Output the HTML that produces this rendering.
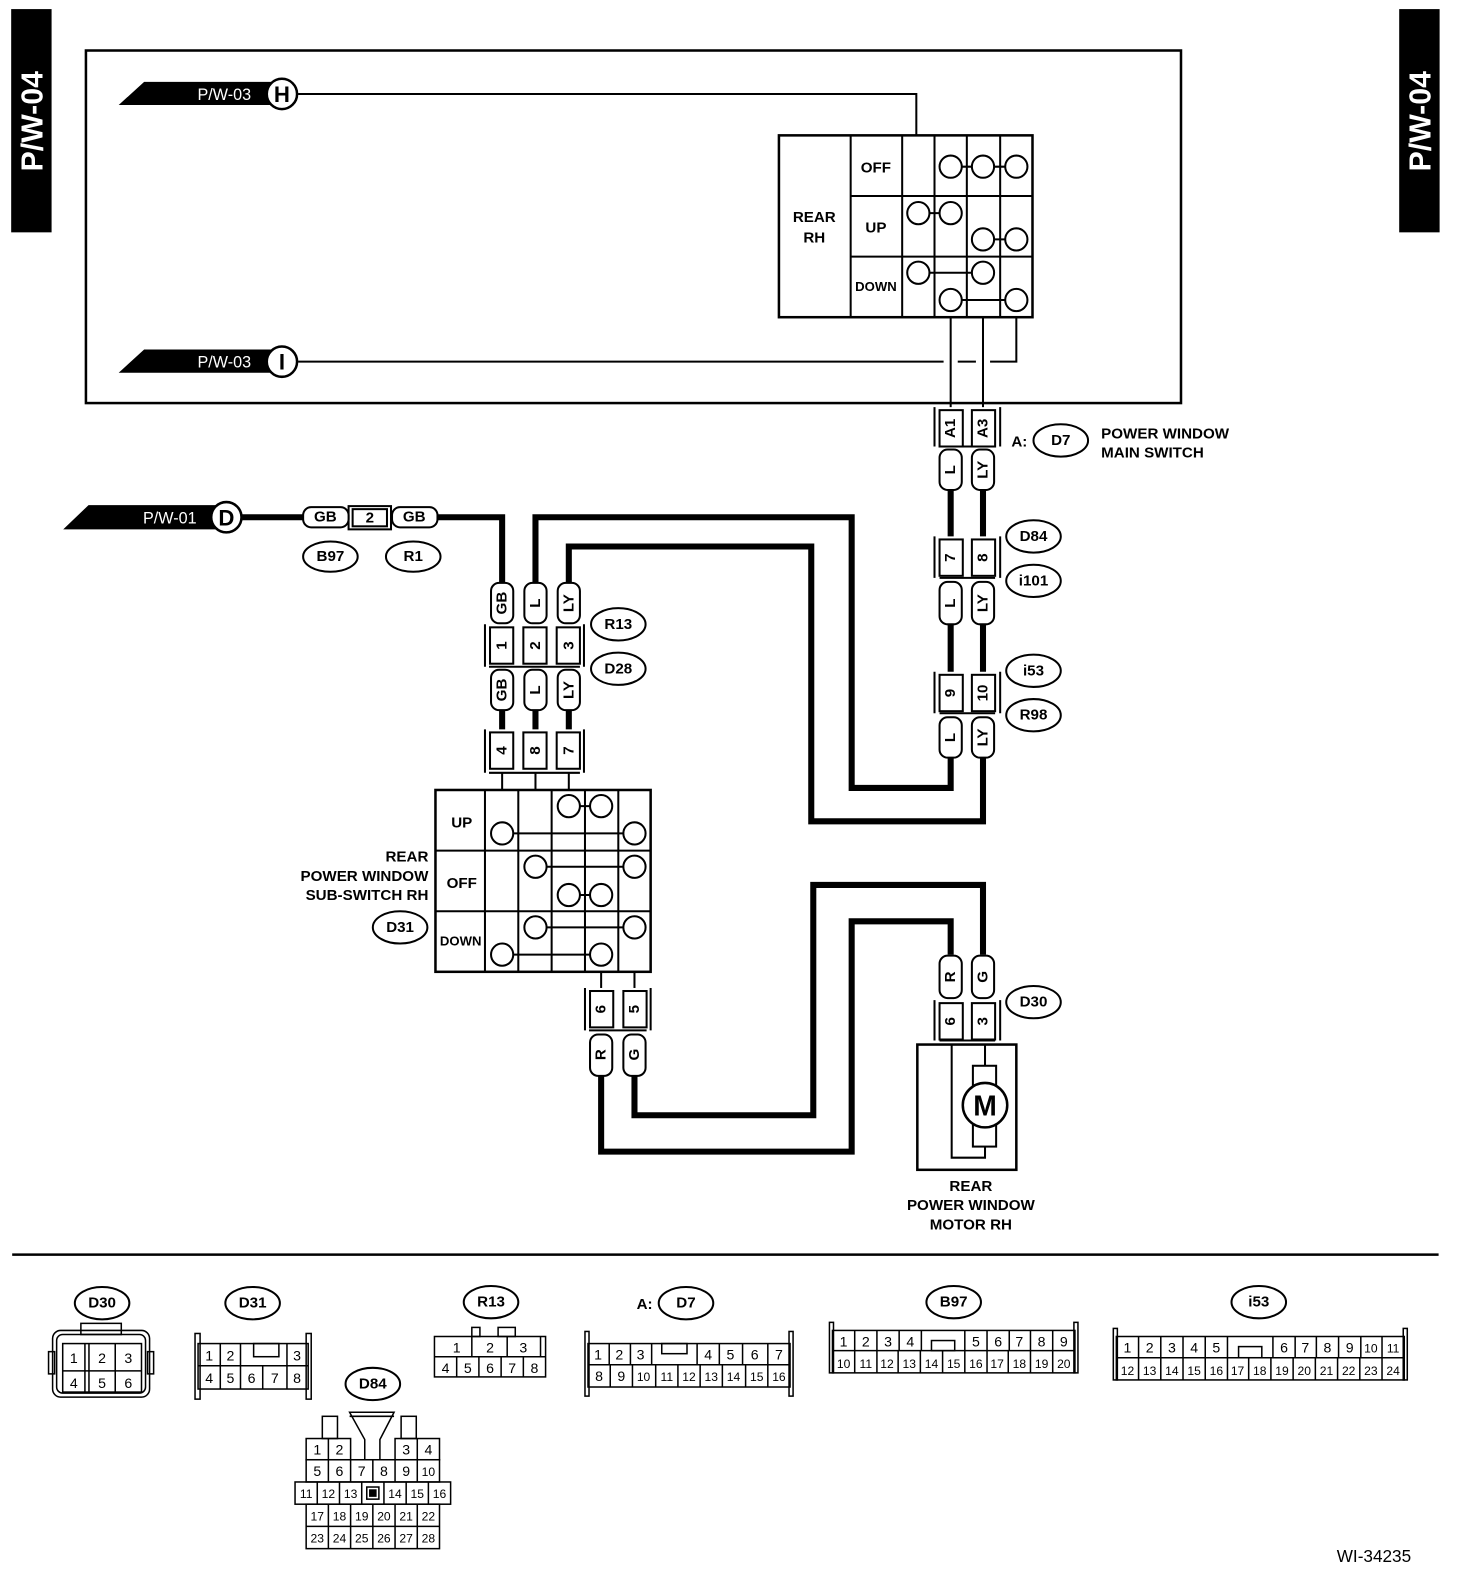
<!DOCTYPE html>
<html><head><meta charset="utf-8"><style>
html,body{margin:0;padding:0;background:#fff;}
svg{display:block;}
text{font-family:"Liberation Sans",sans-serif;font-weight:bold;font-size:15px;fill:#000;}
.n{font-weight:normal;font-size:14px;}
.w{fill:#fff;}
</style></head><body>
<svg width="1472" height="1584" viewBox="0 0 1457 1568" xmlns="http://www.w3.org/2000/svg">
<g fill="none" stroke="#000" stroke-width="2">
<rect x="12" y="10" width="38" height="219" fill="#000"/>
<rect x="1386" y="10" width="38" height="219" fill="#000"/>
<rect x="85" y="50" width="1084" height="349" stroke-width="2.5"/>
<polyline points="295,93 907,93 907,134"/>
<polyline points="295,358 934,358"/>
<polyline points="948,358 966,358"/>
<polyline points="980,358 1006,358 1006,314"/>
<line x1="941" y1="314" x2="941" y2="403"/>
<line x1="973" y1="314" x2="973" y2="403"/>
<rect x="771" y="134" width="251" height="180" stroke-width="2.5"/>
<line x1="842" y1="134" x2="842" y2="314"/>
<line x1="893" y1="134" x2="893" y2="314"/>
<line x1="925" y1="134" x2="925" y2="314"/>
<line x1="957" y1="134" x2="957" y2="314"/>
<line x1="990" y1="134" x2="990" y2="314"/>
<line x1="842" y1="194" x2="1022" y2="194"/>
<line x1="842" y1="254" x2="1022" y2="254"/>
<line x1="941" y1="165" x2="1006" y2="165"/>
<line x1="909" y1="211" x2="941" y2="211"/>
<line x1="973" y1="237" x2="1006" y2="237"/>
<line x1="909" y1="270" x2="973" y2="270"/>
<line x1="941" y1="297" x2="1006" y2="297"/>
<g fill="#fff">
<circle cx="941" cy="165" r="11"/><circle cx="973" cy="165" r="11"/><circle cx="1006" cy="165" r="11"/>
<circle cx="909" cy="211" r="11"/><circle cx="941" cy="211" r="11"/>
<circle cx="973" cy="237" r="11"/><circle cx="1006" cy="237" r="11"/>
<circle cx="909" cy="270" r="11"/><circle cx="973" cy="270" r="11"/>
<circle cx="941" cy="297" r="11"/><circle cx="1006" cy="297" r="11"/>
</g>
<g stroke-width="6">
<line x1="941" y1="485" x2="941" y2="531"/><line x1="973" y1="485" x2="973" y2="531"/>
<line x1="941" y1="618" x2="941" y2="665"/><line x1="973" y1="618" x2="973" y2="665"/>
<polyline points="941,750 941,780 843,780 843,512 530,512 530,577"/>
<polyline points="973,750 973,813 803,813 803,541 563,541 563,577"/>
<polyline points="240,512 300,512"/>
<polyline points="433,512 497,512 497,577"/>
<line x1="497" y1="702" x2="497" y2="722"/><line x1="530" y1="702" x2="530" y2="722"/><line x1="563" y1="702" x2="563" y2="722"/>
<polyline points="595,1065 595,1140 843,1140 843,912 941,912 941,945"/>
<polyline points="628,1065 628,1104 805,1104 805,876 973,876 973,945"/>
</g>
<g>
<path d="M925,442 V403 M990,403 V442 M930,442 H985"/><rect x="930" y="406" width="23" height="36"/><rect x="962" y="406" width="23" height="36"/>
<path d="M925,572 V531 M990,531 V572 M930,572 H985"/><rect x="930" y="534" width="23" height="36"/><rect x="962" y="534" width="23" height="36"/>
<path d="M925,706 V665 M990,665 V706 M930,706 H985"/><rect x="930" y="668" width="23" height="36"/><rect x="962" y="668" width="23" height="36"/>
<path d="M480,660 V618 M578,618 V660 M484,660 H574"/><rect x="485" y="621" width="23" height="36"/><rect x="518" y="621" width="23" height="36"/><rect x="551" y="621" width="23" height="36"/>
<path d="M480,765 V722 M578,722 V765 M484,765 H574"/><rect x="485" y="725" width="23" height="36"/><rect x="518" y="725" width="23" height="36"/><rect x="551" y="725" width="23" height="36"/>
<path d="M579,1020 V978 M644,978 V1020 M583,1020 H640"/><rect x="584" y="981" width="23" height="36"/><rect x="617" y="981" width="23" height="36"/>
<path d="M925,1030 V990 M990,990 V1030 M930,1030 H985"/><rect x="930" y="993" width="23" height="36"/><rect x="962" y="993" width="23" height="36"/>
<rect x="345" y="501" width="42" height="23"/><rect x="349" y="504" width="34" height="17"/>
</g>
<g fill="#fff">
<rect x="930" y="445" width="22" height="40" rx="8"/><rect x="962" y="445" width="22" height="40" rx="8"/>
<rect x="930" y="576" width="22" height="42" rx="8"/><rect x="962" y="576" width="22" height="42" rx="8"/>
<rect x="930" y="710" width="22" height="40" rx="8"/><rect x="962" y="710" width="22" height="40" rx="8"/>
<rect x="486" y="577" width="22" height="40" rx="8"/><rect x="519" y="577" width="22" height="40" rx="8"/><rect x="552" y="577" width="22" height="40" rx="8"/>
<rect x="486" y="663" width="22" height="40" rx="8"/><rect x="519" y="663" width="22" height="40" rx="8"/><rect x="552" y="663" width="22" height="40" rx="8"/>
<rect x="584" y="1024" width="22" height="41" rx="8"/><rect x="617" y="1024" width="22" height="41" rx="8"/>
<rect x="930" y="946" width="22" height="42" rx="8"/><rect x="962" y="946" width="22" height="42" rx="8"/>
<rect x="300" y="502" width="45" height="20" rx="8"/><rect x="388" y="502" width="45" height="20" rx="8"/>
</g>
<line x1="497" y1="765" x2="497" y2="782"/><line x1="530" y1="765" x2="530" y2="782"/><line x1="563" y1="765" x2="563" y2="782"/>
<line x1="595" y1="962" x2="595" y2="978"/><line x1="628" y1="962" x2="628" y2="978"/>
<rect x="431" y="782" width="213" height="180" stroke-width="2.5"/>
<line x1="480" y1="782" x2="480" y2="962"/><line x1="513" y1="782" x2="513" y2="962"/><line x1="546" y1="782" x2="546" y2="962"/><line x1="579" y1="782" x2="579" y2="962"/><line x1="612" y1="782" x2="612" y2="962"/>
<line x1="431" y1="842" x2="644" y2="842"/><line x1="431" y1="902" x2="644" y2="902"/>
<line x1="563" y1="798" x2="595" y2="798"/><line x1="497" y1="825" x2="628" y2="825"/>
<line x1="530" y1="858" x2="628" y2="858"/><line x1="563" y1="886" x2="595" y2="886"/>
<line x1="530" y1="918" x2="628" y2="918"/><line x1="497" y1="945" x2="595" y2="945"/>
<g fill="#fff">
<circle cx="563" cy="798" r="11"/><circle cx="595" cy="798" r="11"/><circle cx="497" cy="825" r="11"/><circle cx="628" cy="825" r="11"/>
<circle cx="530" cy="858" r="11"/><circle cx="628" cy="858" r="11"/><circle cx="563" cy="886" r="11"/><circle cx="595" cy="886" r="11"/>
<circle cx="530" cy="918" r="11"/><circle cx="628" cy="918" r="11"/><circle cx="497" cy="945" r="11"/><circle cx="595" cy="945" r="11"/>
</g>
<rect x="908" y="1034" width="98" height="124" stroke-width="2.5"/>
<polyline points="942,1034 942,1146 975,1146 975,1135"/>
<line x1="975" y1="1034" x2="975" y2="1055"/>
<rect x="963" y="1055" width="23" height="80"/>
<circle cx="975" cy="1094" r="22" fill="#fff" stroke-width="2.5"/>
<polygon points="120,103 143,82 270,82 270,103" fill="#000"/>
<polygon points="120,368 143,347 270,347 270,368" fill="#000"/>
<polygon points="65,523 88,501 214,501 214,523" fill="#000"/>
<circle cx="279" cy="93" r="15" fill="#fff" stroke-width="2.5"/>
<circle cx="279" cy="358" r="15" fill="#fff" stroke-width="2.5"/>
<circle cx="224" cy="512" r="15" fill="#fff" stroke-width="2.5"/>
<g stroke-width="2">
<ellipse cx="1050" cy="436" rx="27" ry="16"/>
<ellipse cx="1023" cy="531" rx="27" ry="16"/><ellipse cx="1023" cy="575" rx="27" ry="16"/>
<ellipse cx="1023" cy="664" rx="27" ry="16"/><ellipse cx="1023" cy="708" rx="27" ry="16"/>
<ellipse cx="327" cy="551" rx="27" ry="15"/><ellipse cx="409" cy="551" rx="27" ry="15"/>
<ellipse cx="612" cy="618" rx="27" ry="16"/><ellipse cx="612" cy="662" rx="27" ry="16"/>
<ellipse cx="396" cy="918" rx="27" ry="16"/><ellipse cx="1023" cy="992" rx="27" ry="16"/>
<ellipse cx="101" cy="1290" rx="27" ry="16"/><ellipse cx="250" cy="1290" rx="27" ry="16"/>
<ellipse cx="486" cy="1289" rx="27" ry="16"/><ellipse cx="679" cy="1290" rx="27" ry="16"/>
<ellipse cx="944" cy="1289" rx="27" ry="16"/><ellipse cx="1246" cy="1289" rx="27" ry="16"/>
<ellipse cx="369" cy="1370" rx="27" ry="16"/>
</g>
<line x1="12" y1="1242" x2="1424" y2="1242" stroke-width="2.5"/>
<g stroke-width="1.5">
<rect x="52" y="1317" width="96" height="66" rx="8"/><rect x="56" y="1321" width="88" height="58" rx="6"/>
<rect x="48" y="1338" width="6" height="22"/><rect x="146" y="1338" width="6" height="22"/>
<rect x="80" y="1310" width="40" height="11"/>
<rect x="62" y="1330" width="78" height="48"/><line x1="62" y1="1357" x2="140" y2="1357"/>
<line x1="84" y1="1330" x2="84" y2="1378"/><line x1="88" y1="1330" x2="88" y2="1378"/><line x1="114" y1="1330" x2="114" y2="1378"/>
<rect x="196" y="1330" width="109" height="45"/><line x1="196" y1="1352" x2="305" y2="1352"/>
<line x1="218" y1="1330" x2="218" y2="1375"/><line x1="238" y1="1330" x2="238" y2="1375"/><line x1="260" y1="1352" x2="260" y2="1375"/><line x1="284" y1="1330" x2="284" y2="1375"/>
<rect x="251" y="1330" width="25" height="13"/>
<rect x="193" y="1320" width="5" height="65"/><rect x="303" y="1320" width="5" height="65"/>
<rect x="430" y="1323" width="110" height="40"/><line x1="430" y1="1343" x2="540" y2="1343"/>
<line x1="467" y1="1323" x2="467" y2="1343"/><line x1="502" y1="1323" x2="502" y2="1343"/><line x1="535" y1="1323" x2="535" y2="1343"/>
<line x1="452" y1="1343" x2="452" y2="1363"/><line x1="474" y1="1343" x2="474" y2="1363"/><line x1="496" y1="1343" x2="496" y2="1363"/><line x1="518" y1="1343" x2="518" y2="1363"/>
<rect x="467" y="1314" width="8" height="9"/><rect x="493" y="1314" width="17" height="9"/>
<rect x="582" y="1330" width="200" height="43"/><line x1="582" y1="1351" x2="782" y2="1351"/>
<rect x="579" y="1318" width="4" height="64"/><rect x="781" y="1318" width="4" height="64"/>
<line x1="603" y1="1330" x2="603" y2="1351"/><line x1="624" y1="1330" x2="624" y2="1351"/><line x1="645" y1="1330" x2="645" y2="1351"/><line x1="690" y1="1330" x2="690" y2="1351"/><line x1="712" y1="1330" x2="712" y2="1351"/><line x1="735" y1="1330" x2="735" y2="1351"/><line x1="760" y1="1330" x2="760" y2="1351"/>
<rect x="655" y="1330" width="25" height="10"/>
<line x1="604" y1="1351" x2="604" y2="1373"/><line x1="626" y1="1351" x2="626" y2="1373"/><line x1="649" y1="1351" x2="649" y2="1373"/><line x1="671" y1="1351" x2="671" y2="1373"/><line x1="693" y1="1351" x2="693" y2="1373"/><line x1="715" y1="1351" x2="715" y2="1373"/><line x1="738" y1="1351" x2="738" y2="1373"/><line x1="760" y1="1351" x2="760" y2="1373"/>
<rect x="824" y="1317" width="240" height="42"/><line x1="824" y1="1337" x2="1064" y2="1337"/>
<rect x="821" y="1309" width="4" height="50"/><rect x="1063" y="1309" width="4" height="50"/>
<line x1="846" y1="1317" x2="846" y2="1337"/><line x1="868" y1="1317" x2="868" y2="1337"/><line x1="890" y1="1317" x2="890" y2="1337"/><line x1="912" y1="1317" x2="912" y2="1337"/><line x1="955" y1="1317" x2="955" y2="1337"/><line x1="977" y1="1317" x2="977" y2="1337"/><line x1="999" y1="1317" x2="999" y2="1337"/><line x1="1020" y1="1317" x2="1020" y2="1337"/><line x1="1042" y1="1317" x2="1042" y2="1337"/>
<rect x="922" y="1327" width="23" height="10"/>
<line x1="846" y1="1337" x2="846" y2="1359"/><line x1="868" y1="1337" x2="868" y2="1359"/><line x1="889" y1="1337" x2="889" y2="1359"/><line x1="911" y1="1337" x2="911" y2="1359"/><line x1="933" y1="1337" x2="933" y2="1359"/><line x1="955" y1="1337" x2="955" y2="1359"/><line x1="977" y1="1337" x2="977" y2="1359"/><line x1="998" y1="1337" x2="998" y2="1359"/><line x1="1020" y1="1337" x2="1020" y2="1359"/><line x1="1042" y1="1337" x2="1042" y2="1359"/>
<rect x="1105" y="1323" width="285" height="43"/><line x1="1105" y1="1344" x2="1390" y2="1344"/>
<rect x="1102" y="1315" width="4" height="51"/><rect x="1389" y="1315" width="4" height="51"/>
<line x1="1127" y1="1323" x2="1127" y2="1344"/><line x1="1149" y1="1323" x2="1149" y2="1344"/><line x1="1171" y1="1323" x2="1171" y2="1344"/><line x1="1193" y1="1323" x2="1193" y2="1344"/><line x1="1215" y1="1323" x2="1215" y2="1344"/><line x1="1260" y1="1323" x2="1260" y2="1344"/><line x1="1282" y1="1323" x2="1282" y2="1344"/><line x1="1303" y1="1323" x2="1303" y2="1344"/><line x1="1325" y1="1323" x2="1325" y2="1344"/><line x1="1347" y1="1323" x2="1347" y2="1344"/><line x1="1368" y1="1323" x2="1368" y2="1344"/>
<rect x="1226" y="1333" width="23" height="11"/>
<line x1="1127" y1="1344" x2="1127" y2="1366"/><line x1="1149" y1="1344" x2="1149" y2="1366"/><line x1="1171" y1="1344" x2="1171" y2="1366"/><line x1="1193" y1="1344" x2="1193" y2="1366"/><line x1="1215" y1="1344" x2="1215" y2="1366"/><line x1="1236" y1="1344" x2="1236" y2="1366"/><line x1="1258" y1="1344" x2="1258" y2="1366"/><line x1="1280" y1="1344" x2="1280" y2="1366"/><line x1="1302" y1="1344" x2="1302" y2="1366"/><line x1="1324" y1="1344" x2="1324" y2="1366"/><line x1="1346" y1="1344" x2="1346" y2="1366"/><line x1="1368" y1="1344" x2="1368" y2="1366"/>
<rect x="303" y="1424" width="44" height="21"/><line x1="325" y1="1424" x2="325" y2="1445"/>
<rect x="391" y="1424" width="44" height="21"/><line x1="413" y1="1424" x2="413" y2="1445"/>
<rect x="319" y="1402" width="15" height="22"/><rect x="397" y="1402" width="15" height="22"/>
<polygon points="346,1398 390,1398 376,1425 376,1445 361,1445 361,1425"/>
<line x1="346" y1="1402" x2="390" y2="1402"/>
<rect x="303" y="1445" width="132" height="22"/>
<line x1="325" y1="1445" x2="325" y2="1467"/><line x1="347" y1="1445" x2="347" y2="1467"/><line x1="369" y1="1445" x2="369" y2="1467"/><line x1="391" y1="1445" x2="391" y2="1467"/><line x1="413" y1="1445" x2="413" y2="1467"/>
<rect x="292" y="1467" width="154" height="22"/>
<line x1="314" y1="1467" x2="314" y2="1489"/><line x1="336" y1="1467" x2="336" y2="1489"/><line x1="358" y1="1467" x2="358" y2="1489"/><line x1="380" y1="1467" x2="380" y2="1489"/><line x1="402" y1="1467" x2="402" y2="1489"/><line x1="424" y1="1467" x2="424" y2="1489"/>
<rect x="363" y="1472" width="12" height="12"/><rect x="366" y="1475" width="6" height="6" fill="#000"/>
<rect x="303" y="1489" width="132" height="44"/><line x1="303" y1="1511" x2="435" y2="1511"/>
<line x1="325" y1="1489" x2="325" y2="1533"/><line x1="347" y1="1489" x2="347" y2="1533"/><line x1="369" y1="1489" x2="369" y2="1533"/><line x1="391" y1="1489" x2="391" y2="1533"/><line x1="413" y1="1489" x2="413" y2="1533"/>
</g>
</g>

<text class="w" transform="translate(42,120) rotate(-90)" text-anchor="middle" style="font-size:30px">P/W-04</text>
<text class="w" transform="translate(1416,120) rotate(-90)" text-anchor="middle" style="font-size:30px">P/W-04</text>
<text class="w" x="222" y="99" text-anchor="middle" style="font-weight:normal;font-size:16px">P/W-03</text>
<text class="w" x="222" y="364" text-anchor="middle" style="font-weight:normal;font-size:16px">P/W-03</text>
<text class="w" x="168" y="518" text-anchor="middle" style="font-weight:normal;font-size:16px">P/W-01</text>
<text x="279" y="101" text-anchor="middle" style="font-size:22px">H</text>
<text x="279" y="366" text-anchor="middle" style="font-size:22px">I</text>
<text x="224" y="520" text-anchor="middle" style="font-size:22px">D</text>

<text x="867" y="171" text-anchor="middle">OFF</text>
<text x="867" y="230" text-anchor="middle">UP</text>
<text x="867" y="288" text-anchor="middle" style="font-size:13px">DOWN</text>
<text x="806" y="220" text-anchor="middle">REAR</text>
<text x="806" y="240" text-anchor="middle">RH</text>

<text x="457" y="819" text-anchor="middle">UP</text>
<text x="457" y="879" text-anchor="middle">OFF</text>
<text x="456" y="936" text-anchor="middle" style="font-size:13px">DOWN</text>
<text x="424" y="853" text-anchor="end">REAR</text>
<text x="424" y="872" text-anchor="end">POWER WINDOW</text>
<text x="424" y="891" text-anchor="end">SUB-SWITCH RH</text>

<text x="961" y="1179" text-anchor="middle">REAR</text>
<text x="961" y="1198" text-anchor="middle">POWER WINDOW</text>
<text x="961" y="1217" text-anchor="middle">MOTOR RH</text>
<text x="975" y="1104" text-anchor="middle" style="font-size:28px">M</text>

<text x="1009" y="442" text-anchor="middle">A:</text>
<text x="1090" y="434">POWER WINDOW</text>
<text x="1090" y="453">MAIN SWITCH</text>

<g text-anchor="middle" dominant-baseline="central">
<text x="1050" y="436">D7</text>
<text x="1023" y="531">D84</text><text x="1023" y="575">i101</text>
<text x="1023" y="664">i53</text><text x="1023" y="708">R98</text>
<text x="327" y="551">B97</text><text x="409" y="551">R1</text>
<text x="612" y="618">R13</text><text x="612" y="662">D28</text>
<text x="396" y="918">D31</text><text x="1023" y="992">D30</text>
<text x="101" y="1290">D30</text><text x="250" y="1290">D31</text><text x="486" y="1289">R13</text>
<text x="679" y="1290">D7</text><text x="944" y="1289">B97</text><text x="1246" y="1289">i53</text><text x="369" y="1370">D84</text>
<text x="322" y="512">GB</text><text x="366" y="513">2</text><text x="410" y="512">GB</text>
</g>
<text x="638" y="1296" text-anchor="middle">A:</text>

<g text-anchor="middle" dominant-baseline="central" style="font-size:15px">
<text transform="translate(941,424) rotate(-90)">A1</text><text transform="translate(973,424) rotate(-90)">A3</text>
<text transform="translate(941,465) rotate(-90)">L</text><text transform="translate(973,465) rotate(-90)">LY</text>
<text transform="translate(941,552) rotate(-90)">7</text><text transform="translate(973,552) rotate(-90)">8</text>
<text transform="translate(941,597) rotate(-90)">L</text><text transform="translate(973,597) rotate(-90)">LY</text>
<text transform="translate(941,686) rotate(-90)">9</text><text transform="translate(973,686) rotate(-90)">10</text>
<text transform="translate(941,730) rotate(-90)">L</text><text transform="translate(973,730) rotate(-90)">LY</text>
<text transform="translate(497,597) rotate(-90)">GB</text><text transform="translate(530,597) rotate(-90)">L</text><text transform="translate(563,597) rotate(-90)">LY</text>
<text transform="translate(497,639) rotate(-90)">1</text><text transform="translate(530,639) rotate(-90)">2</text><text transform="translate(563,639) rotate(-90)">3</text>
<text transform="translate(497,683) rotate(-90)">GB</text><text transform="translate(530,683) rotate(-90)">L</text><text transform="translate(563,683) rotate(-90)">LY</text>
<text transform="translate(497,743) rotate(-90)">4</text><text transform="translate(530,743) rotate(-90)">8</text><text transform="translate(563,743) rotate(-90)">7</text>
<text transform="translate(595,999) rotate(-90)">6</text><text transform="translate(628,999) rotate(-90)">5</text>
<text transform="translate(595,1044) rotate(-90)">R</text><text transform="translate(628,1044) rotate(-90)">G</text>
<text transform="translate(941,967) rotate(-90)">R</text><text transform="translate(973,967) rotate(-90)">G</text>
<text transform="translate(941,1011) rotate(-90)">6</text><text transform="translate(973,1011) rotate(-90)">3</text>
</g>

<g class="n" text-anchor="middle" style="font-weight:normal;font-size:14px">
<text class="n" x="73" y="1349">1</text><text class="n" x="101" y="1349">2</text><text class="n" x="127" y="1349">3</text>
<text class="n" x="73" y="1374">4</text><text class="n" x="101" y="1374">5</text><text class="n" x="127" y="1374">6</text>
<text class="n" x="207" y="1347">1</text><text class="n" x="228" y="1347">2</text><text class="n" x="294" y="1347">3</text>
<text class="n" x="207" y="1369">4</text><text class="n" x="228" y="1369">5</text><text class="n" x="249" y="1369">6</text><text class="n" x="272" y="1369">7</text><text class="n" x="294" y="1369">8</text>
<text class="n" x="452" y="1339">1</text><text class="n" x="485" y="1339">2</text><text class="n" x="518" y="1339">3</text>
<text class="n" x="441" y="1359">4</text><text class="n" x="463" y="1359">5</text><text class="n" x="485" y="1359">6</text><text class="n" x="507" y="1359">7</text><text class="n" x="529" y="1359">8</text>
<text class="n" x="592" y="1346">1</text><text class="n" x="613" y="1346">2</text><text class="n" x="634" y="1346">3</text><text class="n" x="701" y="1346">4</text><text class="n" x="723" y="1346">5</text><text class="n" x="747" y="1346">6</text><text class="n" x="771" y="1346">7</text>
<text class="n" x="593" y="1367">8</text><text class="n" x="615" y="1367">9</text><text class="n" x="637" y="1367" style="font-size:12px">10</text><text class="n" x="660" y="1367" style="font-size:12px">11</text><text class="n" x="682" y="1367" style="font-size:12px">12</text><text class="n" x="704" y="1367" style="font-size:12px">13</text><text class="n" x="726" y="1367" style="font-size:12px">14</text><text class="n" x="749" y="1367" style="font-size:12px">15</text><text class="n" x="771" y="1367" style="font-size:12px">16</text>
<text class="n" x="835" y="1333">1</text><text class="n" x="857" y="1333">2</text><text class="n" x="879" y="1333">3</text><text class="n" x="901" y="1333">4</text><text class="n" x="966" y="1333">5</text><text class="n" x="988" y="1333">6</text><text class="n" x="1009" y="1333">7</text><text class="n" x="1031" y="1333">8</text><text class="n" x="1053" y="1333">9</text>
<text class="n" x="835" y="1354" style="font-size:12px">10</text><text class="n" x="857" y="1354" style="font-size:12px">11</text><text class="n" x="878" y="1354" style="font-size:12px">12</text><text class="n" x="900" y="1354" style="font-size:12px">13</text><text class="n" x="922" y="1354" style="font-size:12px">14</text><text class="n" x="944" y="1354" style="font-size:12px">15</text><text class="n" x="966" y="1354" style="font-size:12px">16</text><text class="n" x="987" y="1354" style="font-size:12px">17</text><text class="n" x="1009" y="1354" style="font-size:12px">18</text><text class="n" x="1031" y="1354" style="font-size:12px">19</text><text class="n" x="1053" y="1354" style="font-size:12px">20</text>
<text class="n" x="1116" y="1339">1</text><text class="n" x="1138" y="1339">2</text><text class="n" x="1160" y="1339">3</text><text class="n" x="1182" y="1339">4</text><text class="n" x="1204" y="1339">5</text><text class="n" x="1271" y="1339">6</text><text class="n" x="1292" y="1339">7</text><text class="n" x="1314" y="1339">8</text><text class="n" x="1336" y="1339">9</text><text class="n" x="1357" y="1339" style="font-size:12px">10</text><text class="n" x="1379" y="1339" style="font-size:12px">11</text>
<text class="n" x="1116" y="1361" style="font-size:12px">12</text><text class="n" x="1138" y="1361" style="font-size:12px">13</text><text class="n" x="1160" y="1361" style="font-size:12px">14</text><text class="n" x="1182" y="1361" style="font-size:12px">15</text><text class="n" x="1204" y="1361" style="font-size:12px">16</text><text class="n" x="1225" y="1361" style="font-size:12px">17</text><text class="n" x="1247" y="1361" style="font-size:12px">18</text><text class="n" x="1269" y="1361" style="font-size:12px">19</text><text class="n" x="1291" y="1361" style="font-size:12px">20</text><text class="n" x="1313" y="1361" style="font-size:12px">21</text><text class="n" x="1335" y="1361" style="font-size:12px">22</text><text class="n" x="1357" y="1361" style="font-size:12px">23</text><text class="n" x="1379" y="1361" style="font-size:12px">24</text>
<text class="n" x="314" y="1440">1</text><text class="n" x="336" y="1440">2</text><text class="n" x="402" y="1440">3</text><text class="n" x="424" y="1440">4</text>
<text class="n" x="314" y="1461">5</text><text class="n" x="336" y="1461">6</text><text class="n" x="358" y="1461">7</text><text class="n" x="380" y="1461">8</text><text class="n" x="402" y="1461">9</text><text class="n" x="424" y="1461" style="font-size:12px">10</text>
<text class="n" x="303" y="1483" style="font-size:12px">11</text><text class="n" x="325" y="1483" style="font-size:12px">12</text><text class="n" x="347" y="1483" style="font-size:12px">13</text><text class="n" x="391" y="1483" style="font-size:12px">14</text><text class="n" x="413" y="1483" style="font-size:12px">15</text><text class="n" x="435" y="1483" style="font-size:12px">16</text>
<text class="n" x="314" y="1505" style="font-size:12px">17</text><text class="n" x="336" y="1505" style="font-size:12px">18</text><text class="n" x="358" y="1505" style="font-size:12px">19</text><text class="n" x="380" y="1505" style="font-size:12px">20</text><text class="n" x="402" y="1505" style="font-size:12px">21</text><text class="n" x="424" y="1505" style="font-size:12px">22</text>
<text class="n" x="314" y="1527" style="font-size:12px">23</text><text class="n" x="336" y="1527" style="font-size:12px">24</text><text class="n" x="358" y="1527" style="font-size:12px">25</text><text class="n" x="380" y="1527" style="font-size:12px">26</text><text class="n" x="402" y="1527" style="font-size:12px">27</text><text class="n" x="424" y="1527" style="font-size:12px">28</text>
</g>
<text x="1360" y="1546" text-anchor="middle" style="font-weight:normal;font-size:17px">WI-34235</text>
</svg>
</body></html>
